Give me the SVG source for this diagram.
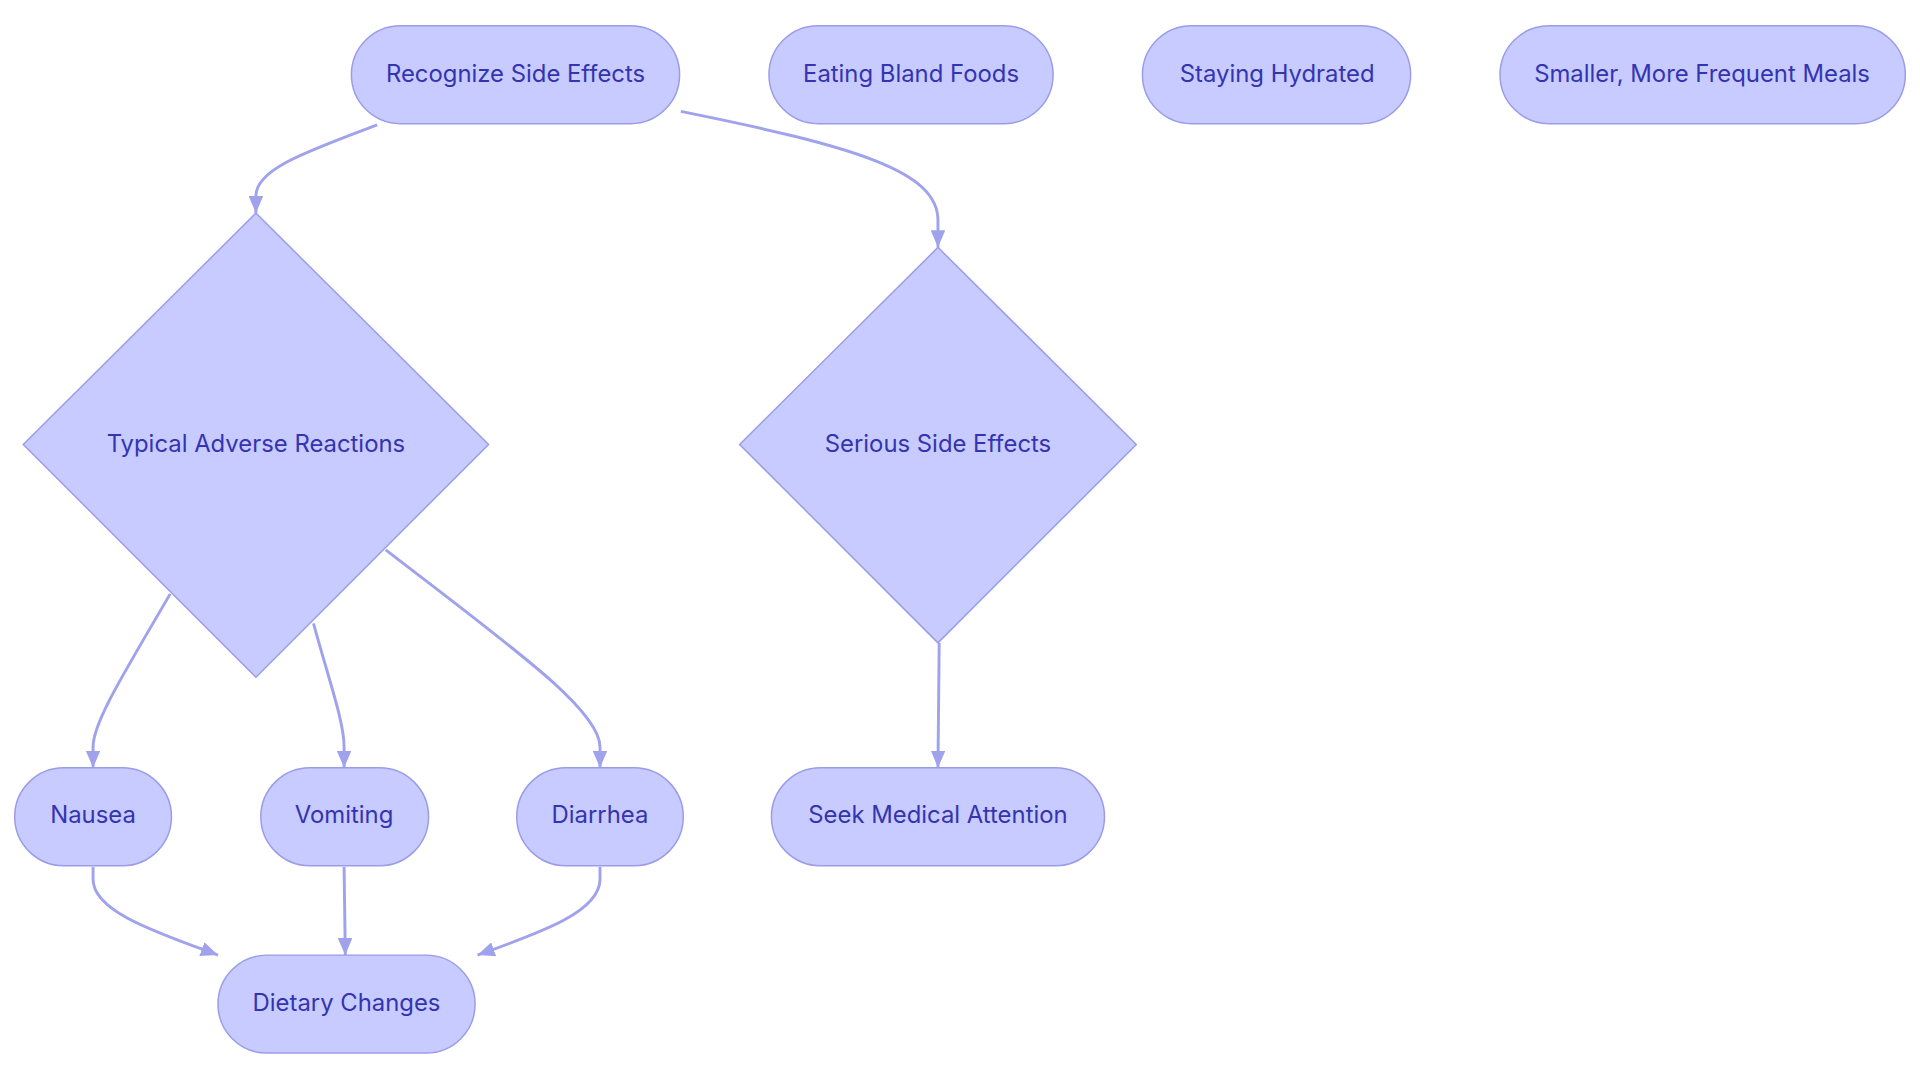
<svg xmlns="http://www.w3.org/2000/svg" width="1920" height="1083" viewBox="0 0 1920 1083">
<style>
.n{fill:#c8cbff;stroke:#9a9ce8;stroke-width:1.2}
.t{font-family:Inter,"Noto Sans",sans-serif;font-size:19.5px;fill:#3434b0;text-anchor:middle;dominant-baseline:central}
.e{fill:none;stroke:#a0a3ec;stroke-width:2.4}
</style>
<defs>
<marker id="a" viewBox="0 0 14 12" refX="14" refY="6" markerWidth="14" markerHeight="12" markerUnits="userSpaceOnUse" orient="auto">
<path d="M0,0 L14,6 L0,12 z" fill="#a0a3ec"/>
</marker>
</defs>
<rect width="1920" height="1083" fill="#ffffff"/>
<g transform="scale(1.2245)">
<g id="edges">
<path class="e" marker-end="url(#a)" d="M308,102 C250,124 209,138 209,160 L209,174"/>
<path class="e" marker-end="url(#a)" d="M556,91 C700,120 766,140 766,180 L766,202"/>
<path class="e" marker-end="url(#a)" d="M139,485 C100,552 76,590 76,610 L76,627"/>
<path class="e" marker-end="url(#a)" d="M256,509 C270,560 281,590 281,610 L281,627"/>
<path class="e" marker-end="url(#a)" d="M315,449 C420,530 490,580 490,610 L490,627"/>
<path class="e" marker-end="url(#a)" d="M767,525 L766,627"/>
<path class="e" marker-end="url(#a)" d="M76,708 L76,718 C76,745 130,762 178,780"/>
<path class="e" marker-end="url(#a)" d="M281,708 L282,780"/>
<path class="e" marker-end="url(#a)" d="M490,708 L490,718 C490,745 440,762 390,780"/>
</g>
<g id="n-recognize"><rect class="n" x="287" y="21" width="268" height="80" rx="40"/><text class="t" x="421" y="60">Recognize Side Effects</text></g>
<g id="n-bland"><rect class="n" x="628" y="21" width="232" height="80" rx="40"/><text class="t" x="744" y="60">Eating Bland Foods</text></g>
<g id="n-hydrated"><rect class="n" x="933" y="21" width="219" height="80" rx="40"/><text class="t" x="1043" y="60">Staying Hydrated</text></g>
<g id="n-meals"><rect class="n" x="1225" y="21" width="331" height="80" rx="40"/><text class="t" x="1390" y="60">Smaller, More Frequent Meals</text></g>
<g id="n-typical"><polygon class="n" points="209,174 399,363 209,553 19,363"/><text class="t" x="209" y="362">Typical Adverse Reactions</text></g>
<g id="n-serious"><polygon class="n" points="766,202 928,363 766,525 604,363"/><text class="t" x="766" y="362">Serious Side Effects</text></g>
<g id="n-nausea"><rect class="n" x="12" y="627" width="128" height="80" rx="40"/><text class="t" x="76" y="665">Nausea</text></g>
<g id="n-vomiting"><rect class="n" x="213" y="627" width="137" height="80" rx="40"/><text class="t" x="281" y="665">Vomiting</text></g>
<g id="n-diarrhea"><rect class="n" x="422" y="627" width="136" height="80" rx="40"/><text class="t" x="490" y="665">Diarrhea</text></g>
<g id="n-seek"><rect class="n" x="630" y="627" width="272" height="80" rx="40"/><text class="t" x="766" y="665">Seek Medical Attention</text></g>
<g id="n-dietary"><rect class="n" x="178" y="780" width="210" height="80" rx="40"/><text class="t" x="283" y="819">Dietary Changes</text></g>
</g>
</svg>
